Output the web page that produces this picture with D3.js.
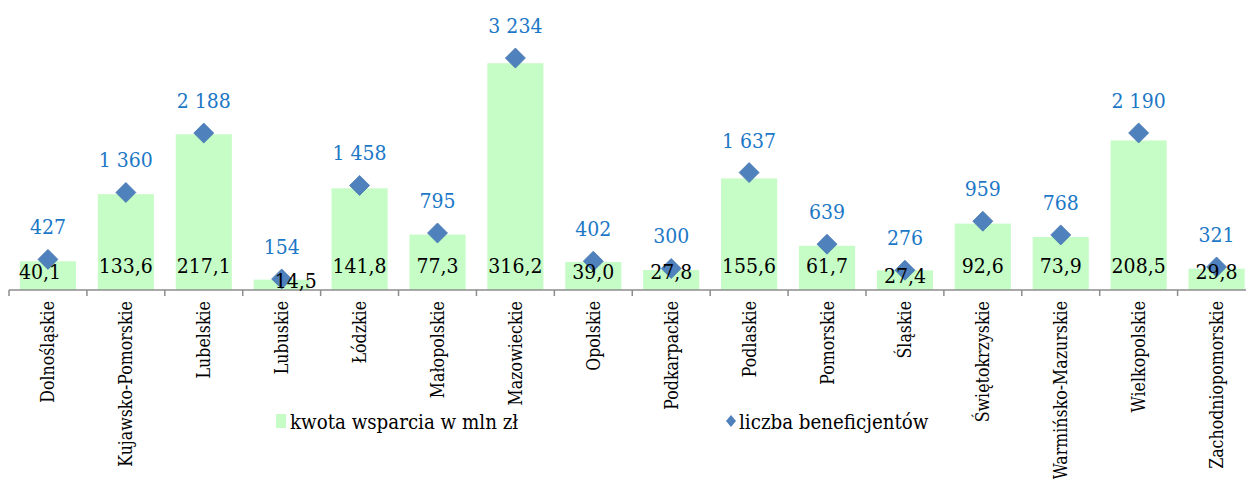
<!DOCTYPE html>
<html>
<head>
<meta charset="utf-8">
<script src="https://cdn.jsdelivr.net/npm/d3@7"></script>
<style>
  body { margin: 0; background: #fff; }
  text { font-family: "DejaVu Serif Condensed", "DejaVu Serif", serif; font-stretch: condensed; }
</style>
</head>
<body>
<script>
const width = 1246;
const height = 479;

// województwa
const regions = ["Dolnośląskie", "Kujawsko-Pomorskie", "Lubelskie", "Lubuskie", "Łódzkie",
    "Małopolskie", "Mazowieckie", "Opolskie", "Podkarpackie", "Podlaskie", "Pomorskie",
    "Śląskie", "Świętokrzyskie", "Warmińsko-Mazurskie", "Wielkopolskie", "Zachodniopomorskie"];
// kwota wsparcia w mln zł
const amounts = [40.1, 133.6, 217.1, 14.5, 141.8, 77.3, 316.2, 39.0, 27.8, 155.6, 61.7, 27.4, 92.6, 73.9, 208.5, 29.8];
// liczba beneficjentów
const beneficiaries = [427, 1360, 2188, 154, 1458, 795, 3234, 402, 300, 1637, 639, 276, 959, 768, 2190, 321];

const seriesNames = ["kwota wsparcia w mln zł", "liczba beneficjentów"];

const pl = d3.formatLocale({ decimal: ",", thousands: " ", grouping: [3], currency: ["", " zł"] });
const fmtAmount = pl.format(".1f");
const fmtCount = pl.format(",d");

const barColor = "#c6fcc6";
const diamondColor = "#4f81bd";
const countColor = "#1c78c6";

const baseY = 290;
const topY = 39;

const svg = d3.select("body").append("svg")
    .attr("width", width)
    .attr("height", height);

const x = d3.scaleBand()
    .domain(regions)
    .range([9, 1255.5])
    .paddingInner(0.28)
    .paddingOuter(0.14);

const yBar = d3.scaleLinear().domain([0, 350]).range([baseY, topY]);
const yPoint = d3.scaleLinear().domain([0, 3500]).range([baseY, topY]);

const data = regions.map((r, i) => ({ region: r, amount: amounts[i], count: beneficiaries[i] }));

// label tweaks that Excel did by hand
const nudge = { "Dolnośląskie": [-8, 0], "Lubuskie": [14, 9], "Śląskie": [0, 4] };

// bars
svg.selectAll("rect.bar")
    .data(data)
    .enter()
    .append("rect")
    .attr("class", "bar")
    .attr("x", d => x(d.region))
    .attr("y", d => yBar(d.amount))
    .attr("width", x.bandwidth())
    .attr("height", d => baseY - yBar(d.amount))
    .attr("fill", barColor);

// category axis
const axis = svg.append("g").attr("transform", `translate(0,${baseY})`);
axis.append("line")
    .attr("x1", 9).attr("x2", width)
    .attr("y1", 0).attr("y2", 0)
    .attr("stroke", "#8c8c8c")
    .attr("stroke-width", 1.5);

const step = x.step();
axis.selectAll("line.tick")
    .data(d3.range(regions.length + 1))
    .enter()
    .append("line")
    .attr("class", "tick")
    .attr("x1", i => 9 + i * step)
    .attr("x2", i => 9 + i * step)
    .attr("y1", 0).attr("y2", 6)
    .attr("stroke", "#8c8c8c")
    .attr("stroke-width", 1.5);

svg.selectAll("text.cat")
    .data(regions)
    .enter()
    .append("text")
    .attr("class", "cat")
    .attr("transform", d => `translate(${x(d) + x.bandwidth() / 2 + 6.5},301) rotate(-90)`)
    .attr("text-anchor", "end")
    .attr("font-size", 17.6)
    .attr("fill", "#000")
    .text(d => d);

// diamonds
const half = 10;
svg.selectAll("path.pt")
    .data(data)
    .enter()
    .append("path")
    .attr("class", "pt")
    .attr("d", d => {
        const cx = x(d.region) + x.bandwidth() / 2;
        const cy = yPoint(d.count);
        return `M${cx},${cy - half}L${cx + half},${cy}L${cx},${cy + half}L${cx - half},${cy}Z`;
    })
    .attr("fill", diamondColor)
    .attr("stroke", "#4677b0")
    .attr("stroke-width", 0.8);

// amount labels (inside base)
svg.selectAll("text.amt")
    .data(data)
    .enter()
    .append("text")
    .attr("class", "amt")
    .attr("x", d => x(d.region) + x.bandwidth() / 2 + (nudge[d.region] ? nudge[d.region][0] : 0))
    .attr("y", d => {
        const h = baseY - yBar(d.amount);
        const base = h >= 40 ? baseY - 17 : baseY - 11;
        return base + (nudge[d.region] ? nudge[d.region][1] : 0);
    })
    .attr("text-anchor", "middle")
    .attr("font-size", 21)
    .attr("fill", "#000")
    .text(d => fmtAmount(d.amount));

// count labels
svg.selectAll("text.cnt")
    .data(data)
    .enter()
    .append("text")
    .attr("class", "cnt")
    .attr("x", d => x(d.region) + x.bandwidth() / 2)
    .attr("y", d => yPoint(d.count) - 25)
    .attr("text-anchor", "middle")
    .attr("font-size", 21)
    .attr("fill", countColor)
    .text(d => fmtCount(d.count));

// legend
const legend = svg.append("g");
legend.append("rect")
    .attr("x", 276).attr("y", 414)
    .attr("width", 10).attr("height", 14)
    .attr("fill", barColor);
legend.append("text")
    .attr("x", 290).attr("y", 429)
    .attr("font-size", 20.3)
    .text(seriesNames[0]);
legend.append("path")
    .attr("d", "M731,415L736,421L731,427L726,421Z")
    .attr("fill", diamondColor);
legend.append("text")
    .attr("x", 739).attr("y", 429)
    .attr("font-size", 20.3)
    .text(seriesNames[1]);
</script>
</body>
</html>
